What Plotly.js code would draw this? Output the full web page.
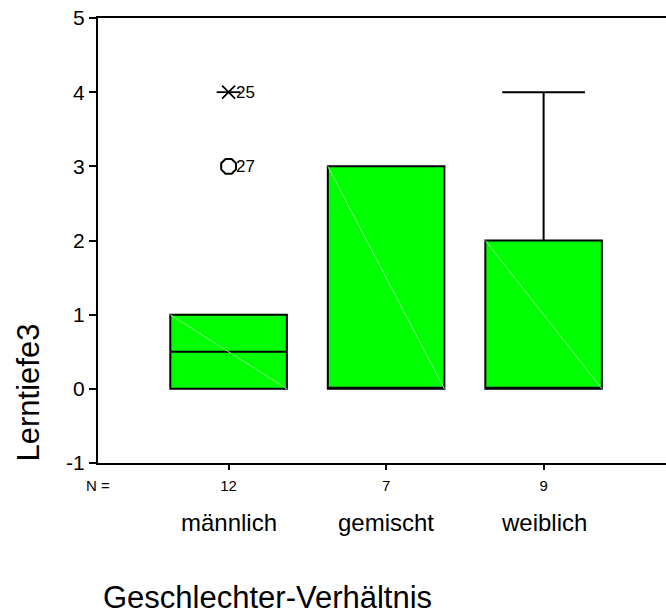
<!DOCTYPE html>
<html>
<head>
<meta charset="utf-8">
<script src="https://cdn.plot.ly/plotly-3.0.1.min.js"></script>
<style>html,body{margin:0;padding:0;background:#fff;}#chart{width:666px;height:614px;}</style>
</head>
<body>
<div id="chart"></div>
<script>
// ---- data ----
const categories = ['männlich', 'gemischt', 'weiblich'];
const nCounts = [12, 7, 9];
const q1Values = [0, 0, 0];
const medianValues = [0.5, 0, 0];
const q3Values = [1, 3, 2];
const lowerWhiskers = [0, 0, 0];
const upperWhiskers = [1, 3, 4];
const outlierGroups = [0, 0];
const outlierValues = [4, 3];
const outlierCaseIds = ['25', '27'];
const outlierKinds = ['extreme', 'outlier'];
const yTickValues = [-1, 0, 1, 2, 3, 4, 5];
const yTickLabels = ['-1', '0', '1', '2', '3', '4', '5'];

// ---- styling ----
const FONT = 'Liberation Sans, Arial, Helvetica, sans-serif';
const BOX_W = 0.74;
const GREEN = '#00ff00';

const traces = [];
categories.forEach((c, i) => {
  traces.push({
    type: 'box',
    name: c,
    x: [i],
    q1: [q1Values[i]],
    median: [medianValues[i]],
    q3: [q3Values[i]],
    lowerfence: [lowerWhiskers[i]],
    upperfence: [upperWhiskers[i]],
    width: BOX_W,
    whiskerwidth: 0.71,
    fillcolor: GREEN,
    line: { color: '#000', width: 2 },
    boxpoints: false,
    hoverinfo: 'skip',
    showlegend: false
  });
});

const idxOut = outlierKinds.map((k, i) => k === 'outlier' ? i : -1).filter(i => i >= 0);
const idxExt = outlierKinds.map((k, i) => k === 'extreme' ? i : -1).filter(i => i >= 0);

traces.push({
  type: 'scatter', mode: 'markers',
  x: idxOut.map(i => outlierGroups[i]), y: idxOut.map(i => outlierValues[i]),
  marker: { symbol: 'octagon-open', size: 16, color: '#000', line: { width: 2, color: '#000' } },
  hoverinfo: 'skip', showlegend: false
});
traces.push({
  type: 'scatter', mode: 'markers',
  x: idxExt.map(i => outlierGroups[i]), y: idxExt.map(i => outlierValues[i]),
  marker: { symbol: 'x-thin-open', size: 13, color: '#000', line: { width: 1.8, color: '#000' } },
  hoverinfo: 'skip', showlegend: false
});
traces.push({
  type: 'scatter', mode: 'markers',
  x: idxExt.map(i => outlierGroups[i]), y: idxExt.map(i => outlierValues[i]),
  marker: { symbol: 'line-ew-open', size: 17, color: '#000', line: { width: 1.8, color: '#000' } },
  hoverinfo: 'skip', showlegend: false
});

// faint diagonal inside each box (SPSS fill artifact)
const shapes = categories.map((c, i) => ({
  type: 'line', xref: 'x', yref: 'y', layer: 'above',
  x0: i - BOX_W / 2, y0: q3Values[i], x1: i + BOX_W / 2, y1: q1Values[i],
  line: { color: '#80ff80', width: 1 }
}));

const annotations = [];
annotations.push({
  text: 'N =', xref: 'paper', yref: 'paper', x: 0, y: 0, yshift: -22,
  xanchor: 'center', yanchor: 'middle', showarrow: false,
  font: { family: FONT, size: 15, color: '#000' }
});
categories.forEach((c, i) => {
  annotations.push({
    text: c, xref: 'x', yref: 'paper', x: i, y: 0, yshift: -59,
    xanchor: 'center', yanchor: 'middle', showarrow: false,
    font: { family: FONT, size: 24, color: '#000' }
  });
});
outlierCaseIds.forEach((id, i) => {
  annotations.push({
    text: id, xref: 'x', yref: 'y', x: outlierGroups[i], y: outlierValues[i], xshift: 5,
    xanchor: 'left', yanchor: 'middle', showarrow: false,
    font: { family: FONT, size: 17, color: '#000' }
  });
});
annotations.push({
  text: 'Geschlechter-Verhältnis', xref: 'paper', yref: 'paper',
  x: (267.5 - 98) / 568, y: 0, yshift: -134,
  xanchor: 'center', yanchor: 'middle', showarrow: false,
  font: { family: FONT, size: 31, color: '#000' }
});
annotations.push({
  text: 'Lerntiefe3', xref: 'paper', yref: 'paper',
  x: (28 - 98) / 568, y: (463 - 392.5) / 445, textangle: -90,
  xanchor: 'center', yanchor: 'middle', showarrow: false,
  font: { family: FONT, size: 31, color: '#000' }
});

const layout = {
  width: 666, height: 614,
  margin: { l: 98, r: 0, t: 18, b: 151, pad: 0 },
  paper_bgcolor: '#fff', plot_bgcolor: '#fff',
  font: { family: FONT, color: '#000' },
  showlegend: false,
  xaxis: {
    type: 'linear', range: [-0.829, 2.777],
    tickvals: categories.map((c, i) => i), ticktext: nCounts.map(String),
    ticks: 'outside', ticklen: 5, tickwidth: 2, tickcolor: '#000',
    ticklabelstandoff: 3,
    showline: true, linewidth: 2, linecolor: '#000', mirror: true,
    showgrid: false, zeroline: false,
    tickfont: { family: FONT, size: 15, color: '#000' }
  },
  yaxis: {
    range: [-1, 5], tickvals: yTickValues, ticktext: yTickLabels,
    ticks: 'outside', ticklen: 7, tickwidth: 2, tickcolor: '#000',
    showline: true, linewidth: 2, linecolor: '#000',
    showgrid: false, zeroline: false,
    tickfont: { family: FONT, size: 21, color: '#000' }
  },
  shapes: shapes,
  annotations: annotations
};

Plotly.newPlot('chart', traces, layout, { staticPlot: true, displayModeBar: false });
</script>
</body>
</html>
